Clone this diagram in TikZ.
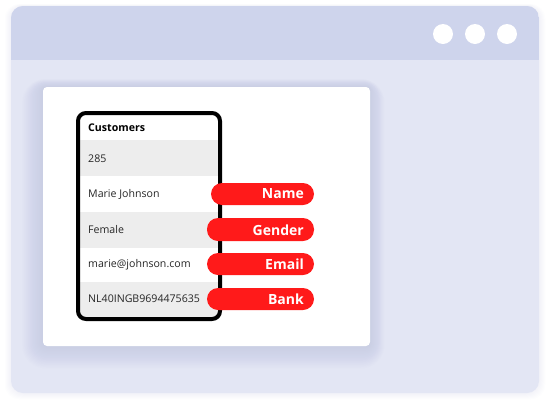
\documentclass[tikz,border=0pt]{standalone}
\usepackage{fontspec}
\setmainfont{Open Sans}
\definecolor{barc}{HTML}{CED4EC}
\definecolor{bodyc}{HTML}{E3E6F4}
\definecolor{rowg}{HTML}{EDEDED}
\definecolor{pillred}{HTML}{FF1A1A}
\definecolor{shadc}{HTML}{A8AED8}
\begin{document}
\begin{tikzpicture}[x=1pt,y=-1pt,
  rowtext/.style={anchor=west,font=\fontsize{10.6}{12}\selectfont,text=black!85,inner sep=0pt},
  pill/.style={fill=pillred,rounded corners=11pt,draw=none},
  pilltext/.style={anchor=east,font=\fontsize{14}{16}\selectfont\bfseries,text=white,inner sep=0pt},
  dot/.style={circle,fill=white,minimum size=20pt,inner sep=0pt}]
\useasboundingbox (0,0) rectangle (550,400);
\fill[white] (0,0) rectangle (550,400);
% window shadow
\foreach \i in {1,...,6}{
  \fill[shadc,opacity=0.02,rounded corners=14pt] (11-\i,6-\i*0.3) rectangle (539+\i,393+\i);
}
% window
\fill[bodyc,rounded corners=12pt] (11,6) rectangle (539,393);
\begin{scope}
  \clip[rounded corners=12pt] (11,6) rectangle (539,393);
  \fill[barc] (11,6) rectangle (539,60);
\end{scope}
\node[dot] (d1) at (443,34) {};
\node[dot] (d2) at (475,34) {};
\node[dot] (d3) at (507,34) {};
% card shadow
\begin{scope}
\clip[rounded corners=12pt] (11,60) rectangle (539,393);
\foreach \i in {1,...,16}{
  \fill[shadc,opacity=0.022,rounded corners=4pt+\i*1.2pt] (43-\i*1.3,87-\i*0.5) rectangle (370+\i*0.9,346+\i*1.4);
}
\end{scope}
\fill[white,rounded corners=4pt] (43,87) rectangle (370,346);
% phone rows
\begin{scope}
  \clip[rounded corners=8pt] (78,113) rectangle (220,319);
  \fill[white] (78,113) rectangle (220,319);
  \fill[rowg] (78,140) rectangle (220,176);
  \fill[rowg] (78,212) rectangle (220,248);
  \fill[rowg] (78,282) rectangle (220,319);
\end{scope}
\draw[black,line width=4pt,rounded corners=8pt] (78,113) rectangle (220,319);
\node[rowtext,font=\fontsize{10.6}{12}\selectfont\bfseries,text=black] (h) at (88,128) {Customers};
\node[rowtext] (r1) at (88,159) {285};
\node[rowtext] (r2) at (88,194) {Marie Johnson};
\node[rowtext] (r3) at (88,230) {Female};
\node[rowtext] (r4) at (88,265) {marie@johnson.com};
\node[rowtext] (r5) at (88,299) {NL40INGB9694475635};
% pills
\fill[pill] (211,183) rectangle (314,205);
\fill[pill] (207,218) rectangle (314,241);
\fill[pill] (207,253) rectangle (314,275);
\fill[pill] (207,288) rectangle (314,310);
\node[pilltext] (p1) at (304,194) {Name};
\node[pilltext] (p2) at (304,230) {Gender};
\node[pilltext] (p3) at (304,264) {Email};
\node[pilltext] (p4) at (304,299) {Bank};
\end{tikzpicture}
\end{document}
